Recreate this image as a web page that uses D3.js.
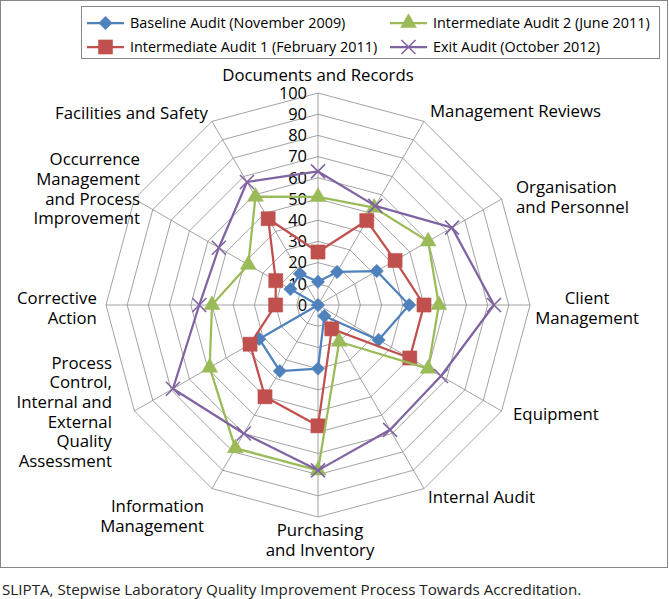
<!DOCTYPE html>
<html>
<head>
<meta charset="utf-8">
<script src="https://cdn.jsdelivr.net/npm/d3@7"></script>
<style>
  html, body { margin: 0; padding: 0; background: #fff; }
  svg { display: block; font-family: "Open Sans", "Noto Sans", sans-serif; }
</style>
</head>
<body>
<svg id="chart" width="669" height="599"></svg>
<script>
// ---------- DATA ----------
const categories = [
  "Documents and Records",
  "Management Reviews",
  "Organisation and Personnel",
  "Client Management",
  "Equipment",
  "Internal Audit",
  "Purchasing and Inventory",
  "Information Management",
  "Process Control, Internal and External Quality Assessment",
  "Corrective Action",
  "Occurrence Management and Process Improvement",
  "Facilities and Safety"
];
const categoryLines = [
  ["Documents and Records"],
  ["Management Reviews"],
  ["Organisation", "and Personnel"],
  ["Client", "Management"],
  ["Equipment"],
  ["Internal Audit"],
  ["Purchasing", "and Inventory"],
  ["Information", "Management"],
  ["Process", "Control,", "Internal and", "External", "Quality", "Assessment"],
  ["Corrective", "Action"],
  ["Occurrence", "Management", "and Process", "Improvement"],
  ["Facilities and Safety"]
];
const seriesNames = [
  "Baseline Audit (November 2009)",
  "Intermediate Audit 1 (February 2011)",
  "Intermediate Audit 2 (June 2011)",
  "Exit Audit (October 2012)"
];
const baseline      = [11, 18, 32, 43, 33, 6, 30, 36, 32, 0, 15, 17];
const intermediate1 = [25, 46, 42, 50, 50, 13, 57, 50, 37, 20, 23, 47];
const intermediate2 = [51, 53, 60, 57, 60, 20, 78, 78, 59, 50, 38, 59];
const exitAudit     = [63, 54, 73, 83, 67, 68, 78, 70, 79, 56, 54, 67];
const tickValues = [0, 10, 20, 30, 40, 50, 60, 70, 80, 90, 100];
const footnote = "SLIPTA, Stepwise Laboratory Quality Improvement Process Towards Accreditation.";

// ---------- LAYOUT / STYLE ----------
const svg = d3.select("#chart");
const cx = 318, cy = 305, R = 212;
const colors = ["#4F81BD", "#C0504D", "#9BBB59", "#8064A2"];
const markerTypes = ["diamond", "square", "triangle", "x"];
const allSeries = [baseline, intermediate1, intermediate2, exitAudit];
const labelFont = 16.8;

const r = d3.scaleLinear().domain([0, 100]).range([0, R]);
const angle = d3.scaleLinear().domain([0, categories.length]).range([0, 2 * Math.PI]);
const pt = (i, v) => [cx + r(v) * Math.sin(angle(i)), cy - r(v) * Math.cos(angle(i))];

// outer frame
svg.append("rect").attr("x", 0.5).attr("y", 0.5).attr("width", 667).attr("height", 567)
  .attr("fill", "none").attr("stroke", "#868686").attr("stroke-width", 1);

const plot = svg.append("g");

// grid rings
const ringLine = d3.lineRadial()
  .angle((d, i) => angle(i)).radius(d => r(d)).curve(d3.curveLinearClosed);
tickValues.filter(t => t > 0).forEach(t => {
  plot.append("path")
    .attr("transform", `translate(${cx},${cy})`)
    .attr("d", ringLine(categories.map(() => t)))
    .attr("fill", "none").attr("stroke", "#8c8c8c").attr("stroke-width", 0.8);
});
// spokes
categories.forEach((c, i) => {
  const [x, y] = pt(i, 100);
  plot.append("line").attr("x1", cx).attr("y1", cy).attr("x2", x).attr("y2", y)
    .attr("stroke", "#8c8c8c").attr("stroke-width", 0.8);
});

// tick labels
plot.selectAll("text.tick").data(tickValues).join("text")
  .attr("class", "tick")
  .attr("x", cx - 11).attr("y", d => cy - r(d))
  .attr("dy", "0.35em")
  .attr("text-anchor", "end")
  .attr("font-size", 16.4).attr("fill", "#000")
  .text(d => d);

// category labels
const labelLayout = [
  {anchor: "middle", dx: 0},
  {anchor: "start",  dx: 0},
  {anchor: "start",  dx: 4},
  {anchor: "middle", dx: 45},
  {anchor: "start",  dx: 1},
  {anchor: "start",  dx: -2},
  {anchor: "middle", dx: 2},
  {anchor: "end",    dx: -2},
  {anchor: "end",    dx: -12},
  {anchor: "end",    dx: 3},
  {anchor: "end",    dx: 16},
  {anchor: "end",    dx: 2}
];
const labelCenters = [75, 111, 197, 308, 414, 497, 540, 516, 412, 308, 189, 113];
const lineH = 19.6;
categoryLines.forEach((lines, i) => {
  const [px] = pt(i, 105.7);
  const L = labelLayout[i];
  const yc = labelCenters[i];
  const t = svg.append("text")
    .attr("text-anchor", L.anchor)
    .attr("font-size", labelFont).attr("fill", "#000");
  lines.forEach((ln, k) => {
    t.append("tspan")
      .attr("x", px + L.dx)
      .attr("y", yc + (k - (lines.length - 1) / 2) * lineH)
      .attr("dy", "0.35em")
      .text(ln);
  });
});

// marker drawing
function drawMarker(g, type, color) {
  if (type === "diamond") {
    g.append("path").attr("d", d3.symbol().type(d3.symbolSquare).size(90)())
      .attr("transform", "rotate(45)").attr("fill", color).attr("stroke", color).attr("stroke-width", 0.5);
  } else if (type === "square") {
    g.append("path").attr("d", d3.symbol().type(d3.symbolSquare).size(200)())
      .attr("fill", color).attr("stroke", color).attr("stroke-width", 0.5);
  } else if (type === "triangle") {
    g.append("path").attr("d", d3.symbol().type(d3.symbolTriangle).size(110)())
      .attr("fill", color).attr("stroke", color).attr("stroke-width", 0.5);
  } else {
    g.append("path").attr("d", "M-7,-7L7,7M-7,7L7,-7")
      .attr("fill", "none").attr("stroke", color).attr("stroke-width", 1.6);
  }
}

// series
const seriesLine = d3.lineRadial()
  .angle((d, i) => angle(i)).radius(d => r(d)).curve(d3.curveLinearClosed);
allSeries.forEach((vals, s) => {
  const g = plot.append("g");
  g.append("path")
    .attr("transform", `translate(${cx},${cy})`)
    .attr("d", seriesLine(vals))
    .attr("fill", "none").attr("stroke", colors[s]).attr("stroke-width", 2.25)
    .attr("stroke-linejoin", "round");
  vals.forEach((v, i) => {
    const [x, y] = pt(i, v);
    drawMarker(g.append("g").attr("transform", `translate(${x},${y})`), markerTypes[s], colors[s]);
  });
});

// legend
const lg = svg.append("g");
const lgX = 81, lgY = 6, lgW = 578, lgH = 52;
lg.append("rect").attr("x", lgX + 0.5).attr("y", lgY + 0.5).attr("width", lgW).attr("height", lgH)
  .attr("fill", "#fff").attr("stroke", "#868686");
const legendPos = [
  {col: 0, row: 0}, {col: 0, row: 1}, {col: 1, row: 0}, {col: 1, row: 1}
];
const colX = [lgX + 6, lgX + 309];
const rowY = [lgY + 17, lgY + 41];
seriesNames.forEach((name, s) => {
  const x0 = colX[legendPos[s].col], y0 = rowY[legendPos[s].row];
  lg.append("line").attr("x1", x0).attr("x2", x0 + 37).attr("y1", y0).attr("y2", y0)
    .attr("stroke", colors[s]).attr("stroke-width", 2.25);
  drawMarker(lg.append("g").attr("transform", `translate(${x0 + 18.5},${y0})`), markerTypes[s], colors[s]);
  lg.append("text").attr("x", x0 + 43).attr("y", y0).attr("dy", "0.35em")
    .attr("font-size", 14.4).attr("fill", "#000").text(name);
});

// footnote
svg.append("text").attr("x", 2).attr("y", 590).attr("dy", "0.35em")
  .attr("font-size", 15.2).attr("fill", "#222").text(footnote);
</script>
</body>
</html>
